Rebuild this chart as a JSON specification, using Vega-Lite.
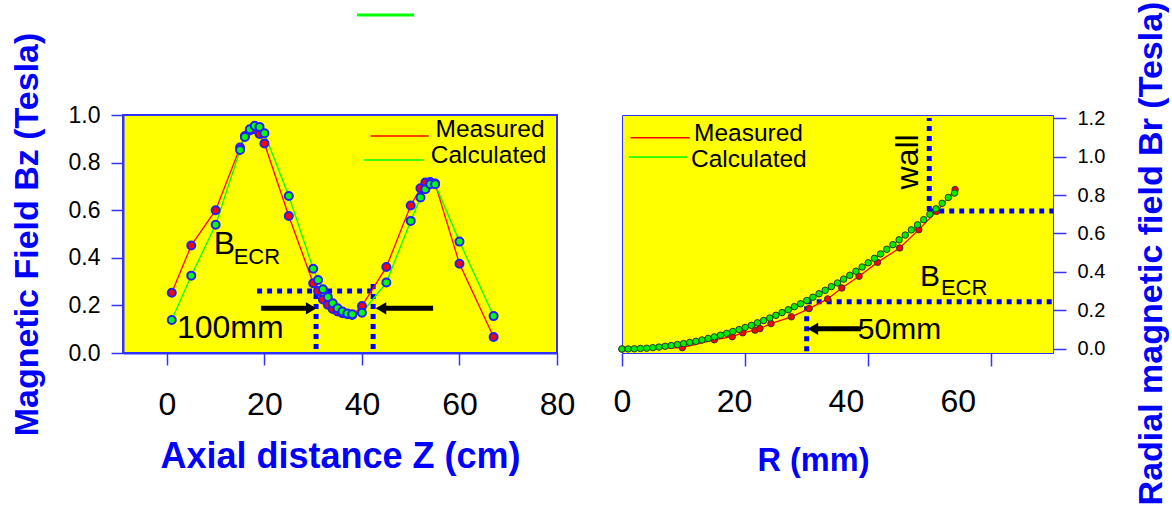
{
  "$schema": "https://vega.github.io/schema/vega-lite/v6.json",
  "background": "white",
  "padding": {"left": 8, "top": 0, "right": 0, "bottom": 0},
  "bounds": "flush",
  "spacing": 65,
  "config": {
    "font": "Liberation Sans",
    "view": {"stroke": null},
    "axis": {"grid": false, "domainColor": "#3333ff", "tickColor": "#3333ff", "labelColor": "#000000", "titleColor": "#0000ff", "titleFont": "Liberation Sans", "labelFont": "Liberation Sans", "titleFontWeight": "bold", "titleFontSize": 34, "labelFlush": false, "labelOverlap": false}
  },
  "datasets": {
    "bz": [
      {"series": "Measured", "x": 1, "y": 0.253}, {"series": "Measured", "x": 5, "y": 0.452}, {"series": "Measured", "x": 10, "y": 0.6}, {"series": "Measured", "x": 15, "y": 0.863}, {"series": "Measured", "x": 16, "y": 0.912}, {"series": "Measured", "x": 17, "y": 0.935}, {"series": "Measured", "x": 18, "y": 0.94}, {"series": "Measured", "x": 19, "y": 0.92}, {"series": "Measured", "x": 20, "y": 0.88}, {"series": "Measured", "x": 25, "y": 0.576}, {"series": "Measured", "x": 30, "y": 0.293}, {"series": "Measured", "x": 31, "y": 0.26}, {"series": "Measured", "x": 32, "y": 0.225}, {"series": "Measured", "x": 33, "y": 0.203}, {"series": "Measured", "x": 34, "y": 0.185}, {"series": "Measured", "x": 35, "y": 0.174}, {"series": "Measured", "x": 36, "y": 0.167}, {"series": "Measured", "x": 37, "y": 0.163}, {"series": "Measured", "x": 38, "y": 0.16}, {"series": "Measured", "x": 40, "y": 0.197}, {"series": "Measured", "x": 45, "y": 0.361}, {"series": "Measured", "x": 50, "y": 0.62}, {"series": "Measured", "x": 52, "y": 0.692}, {"series": "Measured", "x": 53, "y": 0.716}, {"series": "Measured", "x": 54, "y": 0.718}, {"series": "Measured", "x": 55, "y": 0.712}, {"series": "Measured", "x": 60, "y": 0.375}, {"series": "Measured", "x": 67, "y": 0.067},
      {"series": "Calculated", "x": 1, "y": 0.139}, {"series": "Calculated", "x": 5, "y": 0.325}, {"series": "Calculated", "x": 10, "y": 0.539}, {"series": "Calculated", "x": 15, "y": 0.853}, {"series": "Calculated", "x": 16, "y": 0.908}, {"series": "Calculated", "x": 17, "y": 0.94}, {"series": "Calculated", "x": 18, "y": 0.955}, {"series": "Calculated", "x": 19, "y": 0.95}, {"series": "Calculated", "x": 20, "y": 0.923}, {"series": "Calculated", "x": 25, "y": 0.66}, {"series": "Calculated", "x": 30, "y": 0.354}, {"series": "Calculated", "x": 31, "y": 0.307}, {"series": "Calculated", "x": 32, "y": 0.268}, {"series": "Calculated", "x": 33, "y": 0.235}, {"series": "Calculated", "x": 34, "y": 0.209}, {"series": "Calculated", "x": 35, "y": 0.188}, {"series": "Calculated", "x": 36, "y": 0.174}, {"series": "Calculated", "x": 37, "y": 0.166}, {"series": "Calculated", "x": 38, "y": 0.163}, {"series": "Calculated", "x": 40, "y": 0.169}, {"series": "Calculated", "x": 45, "y": 0.296}, {"series": "Calculated", "x": 50, "y": 0.555}, {"series": "Calculated", "x": 52, "y": 0.653}, {"series": "Calculated", "x": 53, "y": 0.688}, {"series": "Calculated", "x": 54, "y": 0.709}, {"series": "Calculated", "x": 55, "y": 0.709}, {"series": "Calculated", "x": 60, "y": 0.468}, {"series": "Calculated", "x": 67, "y": 0.155}
    ],
    "br": [
      {"series": "Measured", "x": 0, "y": 0}, {"series": "Measured", "x": 9.8, "y": 0.007}, {"series": "Measured", "x": 15, "y": 0.048}, {"series": "Measured", "x": 17.9, "y": 0.064}, {"series": "Measured", "x": 19.6, "y": 0.084}, {"series": "Measured", "x": 21.6, "y": 0.098}, {"series": "Measured", "x": 22.4, "y": 0.106}, {"series": "Measured", "x": 24.2, "y": 0.132}, {"series": "Measured", "x": 27.5, "y": 0.167}, {"series": "Measured", "x": 30.4, "y": 0.21}, {"series": "Measured", "x": 33.4, "y": 0.26}, {"series": "Measured", "x": 35.7, "y": 0.317}, {"series": "Measured", "x": 38.5, "y": 0.378}, {"series": "Measured", "x": 41.5, "y": 0.45}, {"series": "Measured", "x": 45.1, "y": 0.525}, {"series": "Measured", "x": 48.2, "y": 0.62}, {"series": "Measured", "x": 51.1, "y": 0.715}, {"series": "Measured", "x": 54.1, "y": 0.828},
      {"series": "Calculated", "x": 0, "y": 0}, {"series": "Calculated", "x": 1, "y": 0.0003}, {"series": "Calculated", "x": 2, "y": 0.001}, {"series": "Calculated", "x": 3, "y": 0.003}, {"series": "Calculated", "x": 4, "y": 0.004}, {"series": "Calculated", "x": 5, "y": 0.007}, {"series": "Calculated", "x": 6, "y": 0.01}, {"series": "Calculated", "x": 7, "y": 0.014}, {"series": "Calculated", "x": 8, "y": 0.018}, {"series": "Calculated", "x": 9, "y": 0.023}, {"series": "Calculated", "x": 10, "y": 0.028}, {"series": "Calculated", "x": 11, "y": 0.034}, {"series": "Calculated", "x": 12, "y": 0.04}, {"series": "Calculated", "x": 13, "y": 0.047}, {"series": "Calculated", "x": 14, "y": 0.055}, {"series": "Calculated", "x": 15, "y": 0.063}, {"series": "Calculated", "x": 16, "y": 0.072}, {"series": "Calculated", "x": 17, "y": 0.081}, {"series": "Calculated", "x": 18, "y": 0.091}, {"series": "Calculated", "x": 19, "y": 0.101}, {"series": "Calculated", "x": 20, "y": 0.112}, {"series": "Calculated", "x": 21, "y": 0.123}, {"series": "Calculated", "x": 22, "y": 0.136}, {"series": "Calculated", "x": 23, "y": 0.148}, {"series": "Calculated", "x": 24, "y": 0.161}, {"series": "Calculated", "x": 25, "y": 0.175}, {"series": "Calculated", "x": 26, "y": 0.189}, {"series": "Calculated", "x": 27, "y": 0.204}, {"series": "Calculated", "x": 28, "y": 0.22}, {"series": "Calculated", "x": 29, "y": 0.235}, {"series": "Calculated", "x": 30, "y": 0.252}, {"series": "Calculated", "x": 31, "y": 0.269}, {"series": "Calculated", "x": 32, "y": 0.287}, {"series": "Calculated", "x": 33, "y": 0.305}, {"series": "Calculated", "x": 34, "y": 0.324}, {"series": "Calculated", "x": 35, "y": 0.343}, {"series": "Calculated", "x": 36, "y": 0.363}, {"series": "Calculated", "x": 37, "y": 0.383}, {"series": "Calculated", "x": 38, "y": 0.404}, {"series": "Calculated", "x": 39, "y": 0.426}, {"series": "Calculated", "x": 40, "y": 0.448}, {"series": "Calculated", "x": 41, "y": 0.471}, {"series": "Calculated", "x": 42, "y": 0.494}, {"series": "Calculated", "x": 43, "y": 0.518}, {"series": "Calculated", "x": 44, "y": 0.542}, {"series": "Calculated", "x": 45, "y": 0.567}, {"series": "Calculated", "x": 46, "y": 0.592}, {"series": "Calculated", "x": 47, "y": 0.619}, {"series": "Calculated", "x": 48, "y": 0.645}, {"series": "Calculated", "x": 49, "y": 0.672}, {"series": "Calculated", "x": 50, "y": 0.7}, {"series": "Calculated", "x": 51, "y": 0.728}, {"series": "Calculated", "x": 52, "y": 0.757}, {"series": "Calculated", "x": 53, "y": 0.787}, {"series": "Calculated", "x": 54, "y": 0.81}
    ],
    "guidesL": [
      {"x": 18.5, "x2": 43.1, "y": 0.26, "y2": 0.26},
      {"x": 30.6, "x2": 30.6, "y": 0.017, "y2": 0.265},
      {"x": 42.3, "x2": 42.3, "y": 0.017, "y2": 0.307}
    ],
    "shaftsL": [
      {"x": 19.3, "x2": 29.5, "y": 0.188},
      {"x": 44.0, "x2": 54.6, "y": 0.188}
    ],
    "headsL": [
      {"dir": "right", "x": 29.6, "y": 0.188},
      {"dir": "left", "x": 43.9, "y": 0.188}
    ],
    "legendL": [
      {"series": "Measured", "x": 41.8, "x2": 53.7, "y": 0.912},
      {"series": "Calculated", "x": 40.4, "x2": 52.7, "y": 0.811}
    ],
    "legendTextL": [
      {"label": "Measured", "x": 55.1, "y": 0.936},
      {"label": "Calculated", "x": 54.1, "y": 0.828}
    ],
    "bigTextL": [
      {"label": "B", "x": 9.6, "y": 0.416},
      {"label": "100mm", "x": 2.05, "y": 0.063}
    ],
    "subTextL": [
      {"label": "ECR", "x": 13.7, "y": 0.374}
    ],
    "strayL": [
      {"x": 39, "x2": 50.7, "y": 1.42}
    ],
    "guidesR": [
      {"x": 49.9, "x2": 49.9, "y": 0.717, "y2": 1.2},
      {"x": 49.9, "x2": 70, "y": 0.717, "y2": 0.717},
      {"x": 30, "x2": 70, "y": 0.245, "y2": 0.245},
      {"x": 30, "x2": 30, "y": -0.012, "y2": 0.245}
    ],
    "shaftsR": [
      {"x": 31.0, "x2": 38.8, "y": 0.105}
    ],
    "headsR": [
      {"dir": "left", "x": 31.0, "y": 0.105}
    ],
    "legendR": [
      {"series": "Measured", "x": 1.4, "x2": 11.0, "y": 1.098},
      {"series": "Calculated", "x": 1.1, "x2": 10.6, "y": 0.998}
    ],
    "legendTextR": [
      {"label": "Measured", "x": 11.7, "y": 1.119},
      {"label": "Calculated", "x": 11.2, "y": 0.984}
    ],
    "bigTextR": [
      {"label": "B", "x": 48.4, "y": 0.329},
      {"label": "50mm", "x": 38.3, "y": 0.05}
    ],
    "subTextR": [
      {"label": "ECR", "x": 51.8, "y": 0.283}
    ],
    "wallR": [
      {"label": "wall", "x": 46.4, "y": 0.972}
    ]
  },
  "hconcat": [
    {
      "width": 434,
      "height": 238,
      "view": {"fill": "#ffff00", "stroke": "#3333ff", "strokeWidth": 2},
      "encoding": {
        "x": {"field": "x", "type": "quantitative", "scale": {"domain": [-9, 80], "nice": false, "zero": false},
          "axis": {"values": [0, 20, 40, 60, 80], "tickSize": 12, "tickWidth": 1.5, "domainWidth": 2, "labelFontSize": 32, "labelBaseline": "alphabetic", "labelPadding": 49, "title": "Axial distance Z (cm)", "titleFontSize": 36, "titleX": 217, "titleY": 114, "titleBaseline": "alphabetic"}},
        "y": {"field": "y", "type": "quantitative", "scale": {"domain": [0, 1], "nice": false, "zero": false},
          "axis": {"values": [0, 0.2, 0.4, 0.6, 0.8, 1.0], "format": ".1f", "tickSize": 12, "tickWidth": 1.5, "domainWidth": 2, "labelFontSize": 23, "labelPadding": 11, "title": "Magnetic Field Bz (Tesla)", "titleX": -96, "titleY": 119, "titleBaseline": "middle", "titleAngle": 270}}
      },
      "layer": [
        {"data": {"name": "guidesL"}, "mark": {"type": "rule", "color": "#0000ff", "strokeWidth": 5, "strokeDash": [5, 5]}, "encoding": {"x2": {"field": "x2"}, "y2": {"field": "y2"}}},
        {"data": {"name": "shaftsL"}, "mark": {"type": "rule", "color": "#000000", "strokeWidth": 5}, "encoding": {"x2": {"field": "x2"}}},
        {"data": {"name": "headsL"}, "mark": {"type": "point", "filled": true, "color": "#000000", "size": 150, "opacity": 1}, "encoding": {"shape": {"field": "dir", "type": "nominal", "scale": {"domain": ["right", "left"], "range": ["triangle-right", "triangle-left"]}, "legend": null}}},
        {"data": {"name": "bz"}, "mark": {"type": "line", "strokeWidth": 1.3}, "encoding": {"color": {"field": "series", "type": "nominal", "scale": {"domain": ["Measured", "Calculated"], "range": ["#ff0000", "#00ff00"]}, "legend": null}}},
        {"data": {"name": "bz"}, "transform": [{"filter": "datum.series === 'Measured'"}], "mark": {"type": "point", "filled": true, "fill": "#ff0000", "stroke": "#2020ff", "strokeWidth": 2, "size": 64, "opacity": 1}},
        {"data": {"name": "bz"}, "transform": [{"filter": "datum.series === 'Calculated'"}], "mark": {"type": "point", "filled": true, "fill": "#00ff00", "stroke": "#2020ff", "strokeWidth": 2, "size": 64, "opacity": 1}},
        {"data": {"name": "legendL"}, "mark": {"type": "rule", "strokeWidth": 1.5}, "encoding": {"x2": {"field": "x2"}, "color": {"field": "series", "type": "nominal", "scale": {"domain": ["Measured", "Calculated"], "range": ["#ff0000", "#00ff00"]}, "legend": null}}},
        {"data": {"name": "legendTextL"}, "mark": {"type": "text", "align": "left", "baseline": "middle", "fontSize": 24.5, "color": "#000000"}, "encoding": {"text": {"field": "label"}}},
        {"data": {"name": "bigTextL"}, "mark": {"type": "text", "align": "left", "baseline": "alphabetic", "fontSize": 32, "color": "#000000"}, "encoding": {"text": {"field": "label"}}},
        {"data": {"name": "subTextL"}, "mark": {"type": "text", "align": "left", "baseline": "alphabetic", "fontSize": 22, "color": "#000000"}, "encoding": {"text": {"field": "label"}}},
        {"data": {"name": "strayL"}, "mark": {"type": "rule", "color": "#00ff00", "strokeWidth": 3, "clip": false}, "encoding": {"x2": {"field": "x2"}}}
      ]
    },
    {
      "width": 431,
      "height": 238,
      "view": {"fill": "#ffff00", "stroke": "#3333ff", "strokeWidth": 1},
      "resolve": {"scale": {"x": "independent"}},
      "layer": [
        {
          "encoding": {
            "x": {"field": "x", "type": "quantitative", "scale": {"domain": [0, 70], "nice": false, "zero": false},
              "axis": {"values": [0, 20, 40, 60], "labels": false, "tickSize": 13, "tickWidth": 1.5, "domainWidth": 1, "title": null}},
            "y": {"field": "y", "type": "quantitative", "scale": {"domain": [-0.0208, 1.2156], "nice": false, "zero": false},
              "axis": {"orient": "right", "values": [0, 0.2, 0.4, 0.6, 0.8, 1.0, 1.2], "format": ".1f", "tickSize": 13, "tickWidth": 1.5, "domainWidth": 1, "labelFontSize": 20, "labelPadding": 11, "title": "Radial magnetic field Br (Tesla)", "titleAngle": 270, "titleX": 98, "titleY": 138, "titleBaseline": "middle"}}
          },
          "layer": [
            {"data": {"name": "guidesR"}, "mark": {"type": "rule", "color": "#0000ff", "strokeWidth": 5, "strokeDash": [5, 5]}, "encoding": {"x2": {"field": "x2"}, "y2": {"field": "y2"}}},
            {"data": {"name": "br"}, "mark": {"type": "line", "strokeWidth": 1.3}, "encoding": {"color": {"field": "series", "type": "nominal", "scale": {"domain": ["Measured", "Calculated"], "range": ["#ff3300", "#00ee00"]}, "legend": null}}},
            {"data": {"name": "br"}, "transform": [{"filter": "datum.series === 'Measured'"}], "mark": {"type": "point", "filled": true, "fill": "#ff0000", "stroke": "#333333", "strokeWidth": 1, "size": 42, "opacity": 1}},
            {"data": {"name": "br"}, "transform": [{"filter": "datum.series === 'Calculated'"}], "mark": {"type": "point", "filled": true, "fill": "#00ee00", "stroke": "#333333", "strokeWidth": 1, "size": 42, "opacity": 1}},
            {"data": {"name": "shaftsR"}, "mark": {"type": "rule", "color": "#000000", "strokeWidth": 5}, "encoding": {"x2": {"field": "x2"}}},
            {"data": {"name": "headsR"}, "mark": {"type": "point", "filled": true, "color": "#000000", "size": 150, "opacity": 1, "shape": "triangle-left"}},
            {"data": {"name": "legendR"}, "mark": {"type": "rule", "strokeWidth": 1.5}, "encoding": {"x2": {"field": "x2"}, "color": {"field": "series", "type": "nominal", "scale": {"domain": ["Measured", "Calculated"], "range": ["#ff3300", "#00ee00"]}, "legend": null}}},
            {"data": {"name": "legendTextR"}, "mark": {"type": "text", "align": "left", "baseline": "middle", "fontSize": 24.5, "color": "#000000"}, "encoding": {"text": {"field": "label"}}},
            {"data": {"name": "bigTextR"}, "mark": {"type": "text", "align": "left", "baseline": "alphabetic", "fontSize": 30, "color": "#000000"}, "encoding": {"text": {"field": "label"}}},
            {"data": {"name": "subTextR"}, "mark": {"type": "text", "align": "left", "baseline": "alphabetic", "fontSize": 22, "color": "#000000"}, "encoding": {"text": {"field": "label"}}},
            {"data": {"name": "wallR"}, "mark": {"type": "text", "align": "center", "baseline": "middle", "fontSize": 32, "angle": 270, "color": "#000000"}, "encoding": {"text": {"field": "label"}}}
          ]
        },
        {
          "data": {"name": "br"},
          "mark": {"type": "point", "opacity": 0},
          "encoding": {
            "x": {"field": "x", "type": "quantitative", "scale": {"domain": [0, 77], "nice": false, "zero": false},
              "axis": {"orient": "bottom", "values": [0, 20, 40, 60], "ticks": false, "tickSize": 0, "domain": false, "labelFontSize": 32, "labelBaseline": "alphabetic", "labelPadding": 58, "title": "R (mm)", "titleFontSize": 32.5, "titleX": 191, "titleY": 117, "titleBaseline": "alphabetic"}}
          }
        }
      ]
    }
  ]
}
